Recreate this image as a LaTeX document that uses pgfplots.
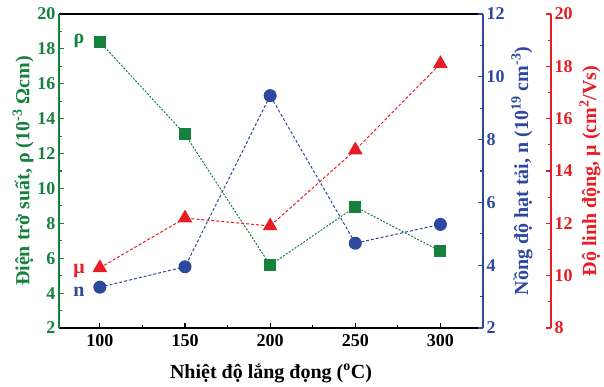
\documentclass[border=0pt]{standalone}
\usepackage{pgfplots}
\pgfplotsset{compat=1.18}
\usepackage{fontspec}
\setmainfont{Liberation Serif}
\definecolor{cg}{RGB}{22,128,61}
\definecolor{cb}{RGB}{46,72,160}
\definecolor{cr}{RGB}{232,28,36}
\pgfplotsset{common/.style={
  width=424pt, height=314pt, scale only axis,
  xmin=76, xmax=325,
  tick label style={font=\fontsize{18}{18}\selectfont\bfseries},
  label style={font=\fontsize{20}{22}\selectfont\bfseries},
  /pgf/number format/assume math mode=true,
  major tick length=5pt, minor tick length=3pt,
  tick align=inside,
  every tick/.style={line width=1.2pt},
  clip=false,
}}
\begin{document}
\begin{tikzpicture}
\useasboundingbox (-59pt,-58pt) rectangle (545pt,328pt);
\begin{axis}[common,
  separate axis lines,
  x axis line style={black, line width=1.5pt},
  y axis line style={cg, line width=1.5pt},
  xtick={100,150,...,300}, minor x tick num=1, xtick pos=bottom,
  ymin=2, ymax=20, ytick={2,4,...,20}, minor y tick num=1, ytick pos=left,
  xticklabel style={yshift=-3pt},
  yticklabel style={cg},
  y tick style={cg},
  ylabel={Điện trở suất, ρ (10\textsuperscript{-3} Ωcm)},
  ylabel style={cg, yshift=-3pt},
  xlabel={Nhiệt độ lắng đọng (\textsuperscript{o}C)},
  xlabel style={yshift=-10pt},
]
\addplot[cg, line width=1pt, dash pattern=on 2pt off 1.5pt, mark=square*, mark size=5.5pt, mark options={solid}]
  coordinates {(100,18.4) (150,13.1) (200,5.6) (250,8.95) (300,6.4)};
\node[cg, font=\fontsize{20}{20}\selectfont\bfseries] at (axis cs:87.7,18.45) {ρ};
\node[cr, font=\fontsize{20}{20}\selectfont\bfseries] at (axis cs:87.7,5.25) {μ};
\node[cb, font=\fontsize{20}{20}\selectfont\bfseries] at (axis cs:87.7,4.1) {n};
\end{axis}
\begin{axis}[common,
  hide x axis, axis y line*=right,
  y axis line style={cb, line width=1.5pt},
  ymin=2, ymax=12, ytick={2,4,...,12}, minor y tick num=1,
  yticklabel style={cb}, y tick style={cb},
  ylabel={Nồng độ hạt tải, n (10\textsuperscript{19} cm\textsuperscript{-3})},
  ylabel style={cb},
]
\addplot[cb, line width=1pt, dash pattern=on 3pt off 2pt, mark=*, mark size=6pt, mark options={solid}]
  coordinates {(100,3.3) (150,3.95) (200,9.4) (250,4.7) (300,5.3)};
\end{axis}
\begin{axis}[common, hide axis, ymin=8, ymax=20]
\addplot[cr, line width=1pt, dash pattern=on 3pt off 2pt, mark=triangle*, mark size=7.5pt, mark options={solid}]
  coordinates {(100,10.3) (150,12.2) (200,11.9) (250,14.8) (300,18.1)};
\end{axis}
\begin{axis}[common, xshift=68pt,
  hide x axis, axis y line*=right,
  y axis line style={cr, line width=1.5pt},
  ymin=8, ymax=20, ytick={8,10,...,20}, minor y tick num=1,
  yticklabel style={cr}, y tick style={cr},
  ylabel={Độ linh động, μ (cm\textsuperscript{2}/Vs)},
  ylabel style={cr},
]
\end{axis}
\end{tikzpicture}
\end{document}
